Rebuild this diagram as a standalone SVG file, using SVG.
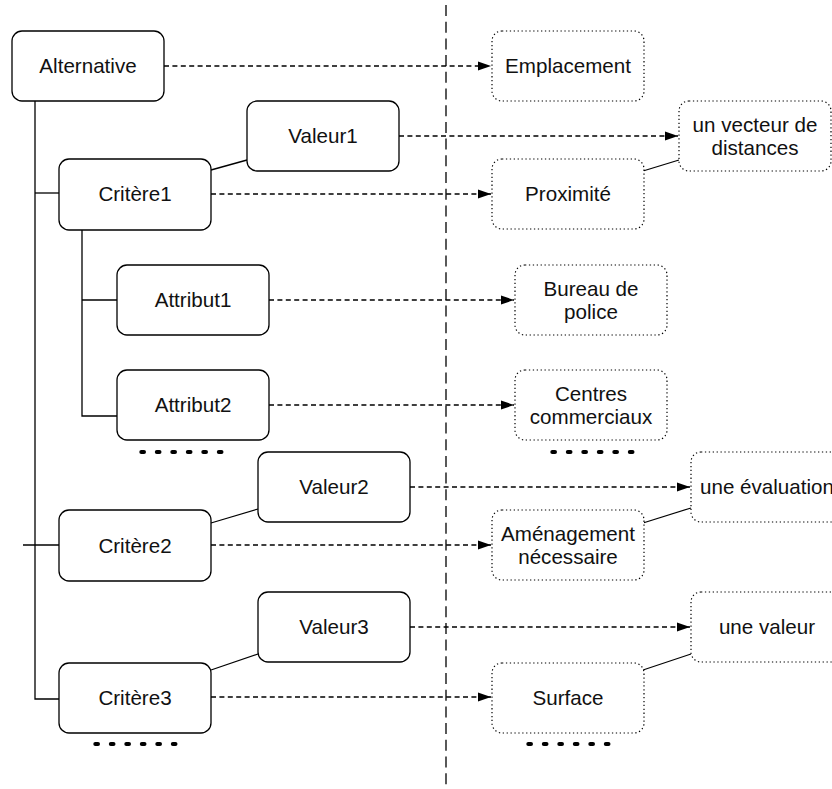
<svg xmlns="http://www.w3.org/2000/svg" width="832" height="789" viewBox="0 0 832 789">
<defs>
<style>
.n rect{fill:#fff;stroke:#000;stroke-width:1.3}
.d rect{fill:#fff;stroke:#000;stroke-width:1.2;stroke-dasharray:1.3 2.6}
text{font-family:"Liberation Sans",Arial,Helvetica,sans-serif;font-size:20.6px;fill:#111;text-anchor:middle}
.solid{stroke:#000;stroke-width:1.3;fill:none}
.dash{stroke:#000;stroke-width:1.3;fill:none;stroke-dasharray:5 3.4;marker-end:url(#arr)}
.ell{stroke:#000;stroke-width:4;stroke-linecap:round;stroke-dasharray:2.7 12.8;fill:none}
.sep{stroke:#000;stroke-width:1.3;fill:none;stroke-dasharray:11 5.7}
</style>
<marker id="arr" viewBox="0 0 13 10" refX="13" refY="5" markerWidth="13" markerHeight="10" markerUnits="userSpaceOnUse" orient="auto">
<path d="M0,0.5 L13,5 L0,9.5 Z" fill="#000"/>
</marker>
</defs>
<rect width="832" height="789" fill="#fff"/>
<g id="connectors">
<line class="sep" x1="446" y1="5" x2="446" y2="789"/>
<path class="solid" d="M35,101 V699 H59"/>
<path class="solid" d="M35,193 H59"/>
<path class="solid" d="M23,545 H59"/>
<path class="solid" d="M82,230 V416 H117"/>
<path class="solid" d="M82,300 H117"/>
<line class="solid" x1="211" y1="170" x2="247" y2="160"/>
<line class="solid" x1="211" y1="523" x2="258" y2="509"/>
<line class="solid" x1="211" y1="670" x2="258" y2="654"/>
<line class="solid" x1="643" y1="171" x2="679" y2="160"/>
<line class="solid" x1="643" y1="523" x2="691" y2="508"/>
<line class="solid" x1="643" y1="670" x2="691" y2="654"/>
<line class="dash" x1="164" y1="66" x2="491" y2="66"/>
<line class="dash" x1="399" y1="136" x2="678" y2="136"/>
<line class="dash" x1="211" y1="194" x2="491" y2="194"/>
<line class="dash" x1="269" y1="300" x2="514" y2="300"/>
<line class="dash" x1="269" y1="405" x2="514" y2="405"/>
<line class="dash" x1="410" y1="487" x2="690" y2="487"/>
<line class="dash" x1="211" y1="545" x2="491" y2="545"/>
<line class="dash" x1="410" y1="627" x2="690" y2="627"/>
<line class="dash" x1="211" y1="697" x2="491" y2="697"/>
<line class="ell" x1="141.3" y1="452" x2="221.5" y2="452"/>
<line class="ell" x1="95.3" y1="744" x2="175.5" y2="744"/>
<line class="ell" x1="552.3" y1="452" x2="632.5" y2="452"/>
<line class="ell" x1="528.3" y1="744" x2="608.5" y2="744"/>
</g>
<g id="alternative" class="n"><rect x="12" y="31" width="152" height="70" rx="10"/><text x="88" y="73.3">Alternative</text></g>
<g id="valeur1" class="n"><rect x="247" y="101" width="152" height="70" rx="10"/><text x="323" y="143.3">Valeur1</text></g>
<g id="critere1" class="n"><rect x="59" y="159" width="152" height="71" rx="10"/><text x="135" y="201.3">Critère1</text></g>
<g id="attribut1" class="n"><rect x="117" y="265" width="152" height="70" rx="10"/><text x="193" y="307.3">Attribut1</text></g>
<g id="attribut2" class="n"><rect x="117" y="370" width="152" height="70" rx="10"/><text x="193" y="412.3">Attribut2</text></g>
<g id="valeur2" class="n"><rect x="258" y="452" width="152" height="70" rx="10"/><text x="334" y="494.3">Valeur2</text></g>
<g id="critere2" class="n"><rect x="59" y="510" width="152" height="71" rx="10"/><text x="135" y="553.3">Critère2</text></g>
<g id="valeur3" class="n"><rect x="258" y="592" width="152" height="70" rx="10"/><text x="334" y="634.3">Valeur3</text></g>
<g id="critere3" class="n"><rect x="59" y="663" width="152" height="70" rx="10"/><text x="135" y="705.3">Critère3</text></g>
<g id="emplacement" class="d"><rect x="492" y="31" width="152" height="70" rx="10"/><text x="568" y="73.3">Emplacement</text></g>
<g id="vecteur" class="d"><rect x="679" y="101" width="152" height="70" rx="10"/><text x="755" y="132.3">un vecteur de</text><text x="755" y="155">distances</text></g>
<g id="proximite" class="d"><rect x="492" y="159" width="152" height="70" rx="10"/><text x="568" y="201.3">Proximité</text></g>
<g id="bureau" class="d"><rect x="515" y="265" width="152" height="70" rx="10"/><text x="591" y="296.3">Bureau de</text><text x="591" y="319">police</text></g>
<g id="centres" class="d"><rect x="515" y="370" width="152" height="70" rx="10"/><text x="591" y="401.3">Centres</text><text x="591" y="424">commerciaux</text></g>
<g id="evaluation" class="d"><rect x="691" y="452" width="152" height="70" rx="10"/><text x="767" y="494.3">une évaluation</text></g>
<g id="amenagement" class="d"><rect x="492" y="510" width="152" height="70" rx="10"/><text x="568" y="541.3">Aménagement</text><text x="568" y="564">nécessaire</text></g>
<g id="unevaleur" class="d"><rect x="691" y="592" width="152" height="70" rx="10"/><text x="767" y="634.3">une valeur</text></g>
<g id="surface" class="d"><rect x="492" y="663" width="152" height="70" rx="10"/><text x="568" y="705.3">Surface</text></g>
</svg>
